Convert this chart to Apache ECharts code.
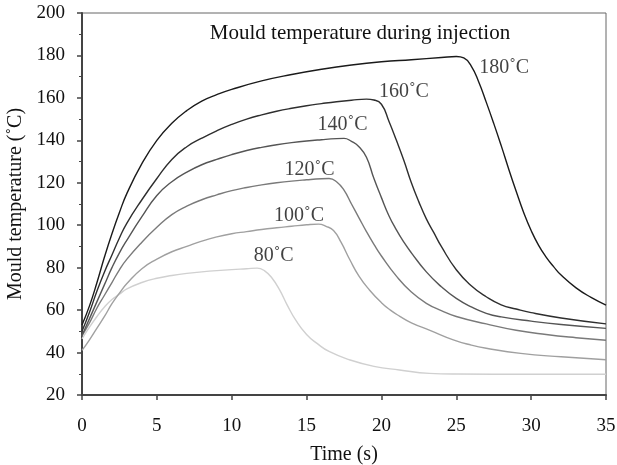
<!DOCTYPE html>
<html>
<head>
<meta charset="utf-8">
<script src="https://cdn.jsdelivr.net/npm/echarts@6/dist/echarts.min.js"></script>
<style>
html,body{margin:0;padding:0;background:#fff;}
#c{width:617px;height:465px;}
</style>
</head>
<body>
<div id="c"></div>
<script>
// ---- data ----
var t180 = [0,0.5,1,1.5,2,2.5,3,4,5,6,7,8,9,10,12,14,16,18,20,22,24,25,25.5,26,26.5,27,27.5,28,28.5,29,29.5,30,30.5,31,31.5,32,33,34,35];
var v180 = [53,62,73,85,96,106,115,129,140,148,154,158.5,161.5,164,168,171,173.5,175.5,177,178,179,179.5,178.8,175,167.5,158,148,137.5,126.5,116,106,97.5,90.5,85,80.5,76.5,70.5,66,62.4];

var t160 = [0,0.5,1,1.5,2,2.5,3,4,5,6,7,8,9,10,11,12,13,14,15,16,17,18,19,19.5,20,20.5,21,21.5,22,22.5,23,23.5,24,25,26,27,28,29,30,32,35];
var v160 = [50,59,69,78,86,94,101,112,122,131,137,141,144.5,147.5,150,152,153.7,155.1,156.3,157.3,158.2,158.9,159.4,159,157,149,140,130.5,120,111,103,96.5,90,79,71.5,66.3,62.5,60.5,58.8,56.3,53.5];

var t140 = [0,0.5,1,1.5,2,2.5,3,4,5,6,7,8,9,10,11,12,13,14,15,16,17,17.5,18,18.5,19,19.5,20,20.5,21,21.5,22,23,24,25,26,27,28,30,32,35];
var v140 = [48,56,64,72,80,87,93,104,114,120.5,125,128.5,131,133.3,135.2,136.7,137.9,138.9,139.7,140.3,140.8,140.9,139.5,137,132,122,113,104.5,97.8,92,87,78,71,65.5,61.5,58.5,56.8,54.8,53.2,51.4];

var t120 = [0,0.5,1,1.5,2,2.5,3,4,5,6,7,8,9,10,11,12,13,14,15,16,16.5,17,17.5,18,18.5,19,19.5,20,21,22,23,24,25,27,29,31,33,35];
var v120 = [48,54,61,67,73,79,84,92,99,105,109,112,114.3,116.3,117.8,119,120,120.8,121.4,121.9,122,120.5,116.5,110,103.5,97,91,85.5,76,68.5,63.2,59.8,57,53.5,50.5,48.5,47,45.8];

var t100 = [0,0.5,1,1.5,2,2.5,3,4,5,6,7,8,9,10,11,12,13,14,15,15.8,16.3,16.8,17.3,17.9,18.5,19.2,20,20.6,21.2,22,23.2,24.8,26,27,29.3,32,35];
var v100 = [41,46,51.5,57,63,68,72.5,79.5,84,87.5,90,92.5,94.5,96,97,98,98.8,99.5,100.2,100.5,99.5,97.5,92,83.6,76,69.5,63.5,60,57.2,54,50.6,46,43.5,42,39.6,38,36.6];

var t80 = [0,0.5,1,1.5,2,2.5,3,4,5,6,7,8,9,10,11,11.7,12.2,12.7,13.2,13.7,14.3,15,15.7,16.5,17.9,19.5,21.2,23.2,25,30,35];
var v80 = [46.5,52,57,61.5,65,67.5,70,73,75,76.3,77.3,78,78.6,79.1,79.5,79.8,78.5,75,69.5,62.5,55,48.5,44.3,40.5,36.5,33.5,31.8,30.2,29.9,29.8,29.8];

var labelText = ['180˚C','160˚C','140˚C','120˚C','100˚C','80˚C'];
var labelX = [28.2,21.5,17.4,15.2,14.5,12.8];
var labelY = [174,163,147.5,126.3,104.5,85.5];

var xTicks = [0,5,10,15,20,25,30,35];
var yTicks = [20,40,60,80,100,120,140,160,180,200];

var titleText = 'Mould temperature during injection';
var xName = 'Time (s)';
var yName = 'Mould temperature (˚C)';

// ---- build ----
function pairs(t, v){ return t.map(function(x,i){ return [x, v[i]]; }); }
var FONT = '"Liberation Serif", "DejaVu Serif", serif';
var colors = ['#1a1a1a','#2e2e2e','#555555','#7a7a7a','#a0a0a0','#d0d0d0'];
var sets = [[t180,v180],[t160,v160],[t140,v140],[t120,v120],[t100,v100],[t80,v80]];

var series = sets.map(function(s, i){
  return {
    type: 'line', data: pairs(s[0], s[1]), smooth: 0.5,
    symbol: 'none', lineStyle: {color: colors[i], width: 1.4}, z: 10 - i, silent: true
  };
});
series.push({
  type: 'scatter', symbolSize: 0, silent: true,
  data: labelX.map(function(x,i){ return {value:[x, labelY[i]], name: labelText[i]}; }),
  label: {show: true, position: 'inside', formatter: function(p){ return p.name; },
          color: '#111', fontFamily: FONT, fontSize: 20}
});

var chart = echarts.init(document.getElementById('c'), null, {renderer: 'canvas'});
chart.setOption({
  animation: false,
  backgroundColor: '#fff',
  grid: {left: 82, right: 11, top: 13, bottom: 70, show: true, borderColor: '#666', borderWidth: 1,
         containLabel: false, outerBoundsMode: 'none'},
  graphic: [{type: 'text', x: 360, y: 33,
    style: {text: titleText, fill: '#111', font: '21px ' + FONT, textAlign: 'center', textVerticalAlign: 'middle'}}],
  xAxis: {
    type: 'value', min: 0, max: 35, interval: 5,
    name: xName, nameLocation: 'middle', nameGap: 50,
    nameTextStyle: {fontFamily: FONT, fontSize: 20, color: '#111'},
    axisLine: {show: true, lineStyle: {color: '#444', width: 2}},
    axisTick: {show: true, inside: false, length: 5, lineStyle: {color: '#444', width: 1.5}},
    axisLabel: {margin: 22, fontFamily: FONT, fontSize: 19, color: '#111',
      formatter: function(v){ return xTicks.indexOf(v) >= 0 ? String(v) : ''; }},
    splitLine: {show: false}
  },
  yAxis: {
    type: 'value', min: 20, max: 200, interval: 20,
    name: yName, nameLocation: 'middle', nameGap: 52,
    nameTextStyle: {fontFamily: FONT, fontSize: 20, color: '#111'},
    axisLine: {show: true, lineStyle: {color: '#444', width: 2}},
    axisTick: {show: true, inside: false, length: 5, lineStyle: {color: '#444', width: 1.5}},
    minorTick: {show: true, splitNumber: 2, length: 3, lineStyle: {color: '#444', width: 1}},
    axisLabel: {margin: 17, fontFamily: FONT, fontSize: 19, color: '#111',
      formatter: function(v){ return yTicks.indexOf(v) >= 0 ? String(v) : ''; }},
    splitLine: {show: false}
  },
  series: series
});
</script>
</body>
</html>
